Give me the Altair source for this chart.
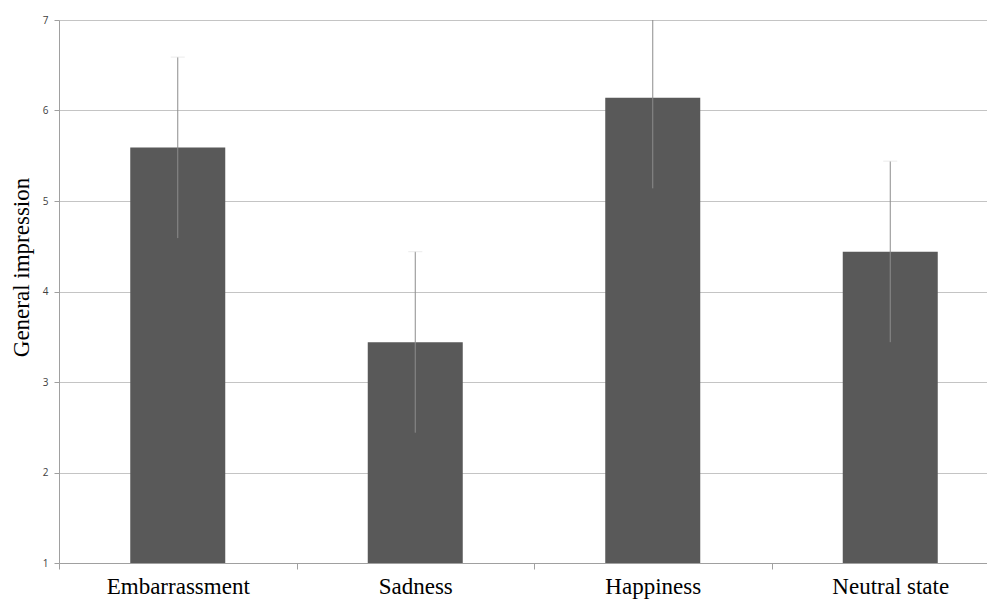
import altair as alt
import pandas as pd

categories = ["Embarrassment", "Sadness", "Happiness", "Neutral state"]
means = [5.59, 3.44, 6.14, 4.44]
errors = [1.0, 1.0, 1.0, 1.0]

df = pd.DataFrame({
    "cat": categories,
    "mean": means,
    "lo": [m - e for m, e in zip(means, errors)],
    "hi": [m + e for m, e in zip(means, errors)],
})

W = 928
H = 543
STEP = 237.5

xscale = alt.Scale(domain=categories, range=[0, STEP * 4], paddingInner=0, paddingOuter=0)
yscale = alt.Scale(domain=[1, 7], nice=False, zero=False)

x_axis = alt.Axis(
    title=None, labelAngle=0, labelFont="Liberation Serif", labelFontSize=23,
    labelColor="#000000", labelBaseline="alphabetic", labelPadding=24,
    tickSize=6, tickColor="#a0a0a0", domainColor="#a0a0a0", tickBand="extent",
    grid=False,
)
y_axis = alt.Axis(
    title="General impression", titleFont="Liberation Serif", titleFontSize=23,
    titleFontWeight="normal", titleColor="#000000", titleX=-31, titleY=247,
    titleBaseline="alphabetic", titleAngle=-90, titleAlign="center",
    values=[1, 2, 3, 4, 5, 6, 7], format="d",
    labelFont="Open Sans", labelFontSize=10, labelColor="#404040", labelPadding=6,
    tickSize=5, tickColor="#a0a0a0", domainColor="#a0a0a0",
    gridColor="#c4c4c4", gridWidth=1,
)

base = alt.Chart(df)

bars = base.mark_bar(color="#595959", width=alt.RelativeBandSize(0.4), clip=True).encode(
    x=alt.X("cat:N", scale=xscale, sort=categories, axis=x_axis),
    y=alt.Y("mean:Q", scale=yscale, axis=y_axis),
    y2=alt.Y2(datum=1),
)

err = base.mark_rule(color="#8c8c8c", strokeWidth=1, clip=True).encode(
    x=alt.X("cat:N", scale=xscale, sort=categories),
    y=alt.Y("lo:Q", scale=yscale),
    y2="hi:Q",
)

caps_hi = base.mark_tick(color="#e2e2e2", size=14, thickness=1, clip=True).encode(
    x=alt.X("cat:N", scale=xscale, sort=categories),
    y=alt.Y("hi:Q", scale=yscale),
)

chart = alt.layer(bars, err, caps_hi).properties(
    width=W, height=H,
    autosize=alt.AutoSizeParams(type="none"),
    padding={"left": 51, "top": 12, "right": 0, "bottom": 36},
).configure_view(stroke=None).configure(background="white")

chart.save("out.html", embed_options={"renderer": "svg", "actions": False})
